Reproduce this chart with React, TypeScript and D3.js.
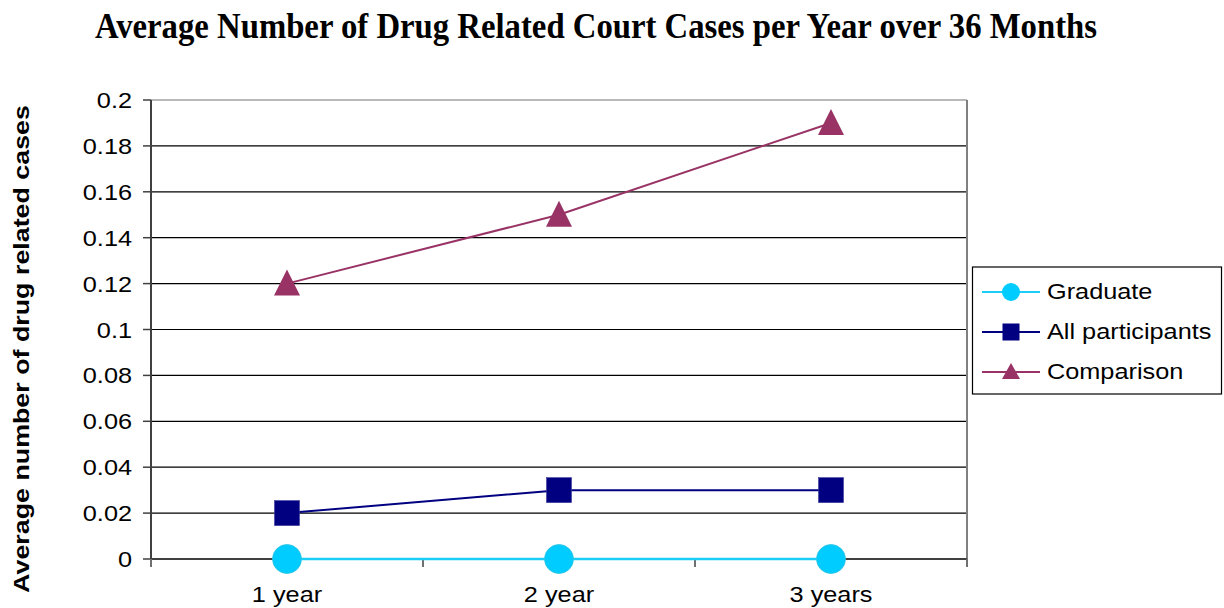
import React from "react";
import * as d3 from "d3";

const categories = ["1 year", "2 year", "3 years"];
const graduate = [0, 0, 0];
const allParticipants = [0.02, 0.03, 0.03];
const comparison = [0.12, 0.15, 0.19];
const yTicks = [0, 0.02, 0.04, 0.06, 0.08, 0.1, 0.12, 0.14, 0.16, 0.18, 0.2];

const W = 1224;
const H = 608;
const plot = { left: 151, right: 967, top: 100, bottom: 559 };

const COL_GRAD = "#1ccdf5";
const COL_ALL = "#000080";
const COL_CMP = "#993366";

const FONT = "Arial, 'Liberation Sans', sans-serif";

type STProps = {
  x: number;
  y: number;
  anchor?: "start" | "middle" | "end";
  rotate?: number;
  size?: number;
  sx?: number;
  weight?: string;
  children: React.ReactNode;
};

// Labels are set in a slightly widened sans face
function StretchText({
  x,
  y,
  anchor = "start",
  rotate = 0,
  size = 22,
  sx = 1.15,
  weight = "normal",
  children,
}: STProps) {
  return (
    <text
      transform={`translate(${x},${y}) rotate(${rotate}) scale(${sx},1)`}
      textAnchor={anchor}
      fontFamily={FONT}
      fontSize={size}
      fontWeight={weight}
      fill="#000"
    >
      {children}
    </text>
  );
}

export default function App() {
  const x = d3
    .scaleBand<string>()
    .domain(categories)
    .range([plot.left, plot.right]);
  const y = d3.scaleLinear().domain([0, 0.2]).range([plot.bottom, plot.top]);
  const cx = (c: string) => (x(c) as number) + x.bandwidth() / 2;

  const line = d3
    .line<number>()
    .x((_, i) => cx(categories[i]))
    .y((d) => y(d));

  const tri = (px: number, py: number, w: number, h: number) =>
    `M${px},${py - h / 2}L${px + w / 2},${py + h / 2}L${px - w / 2},${py + h / 2}Z`;

  const bandEdges = [plot.left, ...categories.map((c) => (x(c) as number) + x.bandwidth())];

  const legendItems = [
    { label: "Graduate", color: COL_GRAD, kind: "circle" },
    { label: "All participants", color: COL_ALL, kind: "square" },
    { label: "Comparison", color: COL_CMP, kind: "triangle" },
  ];

  return (
    <svg
      width={W}
      height={H}
      style={{ position: "absolute", left: 0, top: 0, background: "#fff" }}
    >
      <text
        x={596}
        y={38}
        textAnchor="middle"
        fontFamily="'Liberation Serif', 'Times New Roman', serif"
        fontWeight="bold"
        fontSize={35}
        textLength={1002}
        lengthAdjust="spacingAndGlyphs"
        fill="#000"
      >
        Average Number of Drug Related Court Cases per Year over 36 Months
      </text>

      {/* gridlines */}
      {yTicks.slice(1, -1).map((t) => (
        <line
          key={t}
          x1={plot.left}
          x2={plot.right}
          y1={y(t)}
          y2={y(t)}
          stroke="#000"
          strokeWidth={1.2}
        />
      ))}
      {/* plot frame: top and right */}
      <line x1={plot.left} x2={plot.right} y1={plot.top} y2={plot.top} stroke="#b8b8b8" strokeWidth={2} />
      <line x1={plot.right} x2={plot.right} y1={plot.top} y2={plot.bottom + 8} stroke="#808080" strokeWidth={2} />
      {/* left axis */}
      <line x1={plot.left} x2={plot.left} y1={plot.top} y2={plot.bottom + 8} stroke="#404040" strokeWidth={2} />
      {yTicks.map((t) => (
        <g key={`yt${t}`}>
          <line x1={plot.left - 8} x2={plot.left} y1={y(t)} y2={y(t)} stroke="#404040" strokeWidth={1.5} />
          <StretchText x={132} y={y(t) + 8} anchor="end">
            {String(t)}
          </StretchText>
        </g>
      ))}
      {/* bottom axis */}
      <line x1={plot.left} x2={plot.right} y1={plot.bottom} y2={plot.bottom} stroke="#404040" strokeWidth={2} />
      {bandEdges.map((e, i) => (
        <line key={`xt${i}`} x1={e} x2={e} y1={plot.bottom} y2={plot.bottom + 8} stroke="#707070" strokeWidth={2} />
      ))}
      {categories.map((c) => (
        <StretchText key={c} x={cx(c)} y={602} anchor="middle">
          {c}
        </StretchText>
      ))}

      <StretchText x={29} y={349} anchor="middle" rotate={-90} weight="bold" size={22} sx={1.22}>
        Average number of drug related cases
      </StretchText>

      {/* series lines */}
      <path d={line(comparison) || ""} fill="none" stroke={COL_CMP} strokeWidth={2} />
      <path d={line(allParticipants) || ""} fill="none" stroke={COL_ALL} strokeWidth={2} />
      <path d={line(graduate) || ""} fill="none" stroke={COL_GRAD} strokeWidth={2.5} />

      {/* markers */}
      {comparison.map((v, i) => (
        <path key={`c${i}`} d={tri(cx(categories[i]), y(v) - 1, 26, 26)} fill={COL_CMP} />
      ))}
      {allParticipants.map((v, i) => (
        <rect
          key={`a${i}`}
          x={cx(categories[i]) - 12.5}
          y={y(v) - 12.5}
          width={25}
          height={25}
          fill={COL_ALL}
          stroke="#3a3aa0"
          strokeWidth={0.6}
        />
      ))}
      {graduate.map((v, i) => (
        <circle
          key={`g${i}`}
          cx={cx(categories[i])}
          cy={y(v)}
          r={14.5}
          fill="#00ccff"
          stroke="#33c4e0"
          strokeWidth={0.8}
        />
      ))}

      {/* legend */}
      <rect x={972.5} y={267} width={249} height={127} fill="#fff" stroke="#000" strokeWidth={1.2} />
      {legendItems.map((it, i) => {
        const ly = 292 + i * 40;
        const mx = 1011;
        return (
          <g key={it.label}>
            <line x1={982} x2={1040} y1={ly} y2={ly} stroke={it.color} strokeWidth={2} />
            {it.kind === "circle" && <circle cx={mx} cy={ly} r={9} fill="#00ccff" />}
            {it.kind === "square" && (
              <rect x={mx - 8.5} y={ly - 8.5} width={17} height={17} fill={it.color} />
            )}
            {it.kind === "triangle" && <path d={tri(mx, ly - 1, 18, 16)} fill={it.color} />}
            <StretchText x={1047} y={ly + 6.5}>
              {it.label}
            </StretchText>
          </g>
        );
      })}
    </svg>
  );
}
